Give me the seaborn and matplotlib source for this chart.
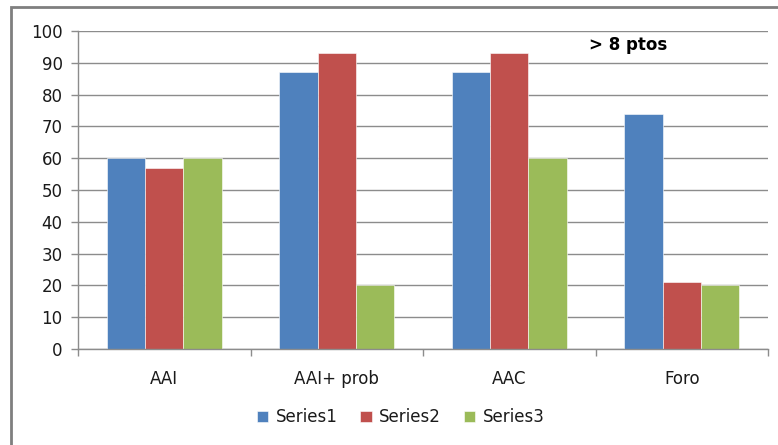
import matplotlib
matplotlib.use("Agg")
import matplotlib.pyplot as plt
import seaborn as sns
import pandas as pd
from matplotlib.patches import Rectangle

categories = ["AAI", "AAI+ prob", "AAC", "Foro"]
series_names = ["Series1", "Series2", "Series3"]
series1 = [60, 87, 87, 74]
series2 = [57, 93, 93, 21]
series3 = [60, 20, 60, 20]
y_ticks = [0, 10, 20, 30, 40, 50, 60, 70, 80, 90, 100]
note_text = "> 8 ptos"

colors = ["#4F81BD", "#C0504D", "#9BBB59"]

rows = []
for name, vals in zip(series_names, [series1, series2, series3]):
    for cat, v in zip(categories, vals):
        rows.append({"categoria": cat, "serie": name, "valor": v})
df = pd.DataFrame(rows)

sns.set_theme(style="white")
plt.rcParams["font.family"] = ["DejaVu Sans"]

fig = plt.figure(figsize=(7.78, 4.45), dpi=100)
ax = fig.add_axes([78 / 778, 1 - 349 / 445, 690 / 778, 318 / 445])

sns.barplot(data=df, x="categoria", y="valor", hue="serie", order=categories,
            hue_order=series_names, palette=colors, width=0.667, gap=0,
            saturation=1, ax=ax, legend=True)

for p in ax.patches:
    p.set_edgecolor("white")
    p.set_linewidth(0.4)

ax.set_ylim(0, 100)
ax.set_xlim(-0.5, 3.5)
ax.set_yticks(y_ticks)
ax.set_xlabel("")
ax.set_ylabel("")

grid_col = "#8C8C8C"
text_col = "#1a1a1a"
ax.yaxis.grid(True, color=grid_col, linewidth=1)
ax.set_axisbelow(True)
for s in ["top", "right"]:
    ax.spines[s].set_visible(False)
for s in ["left", "bottom"]:
    ax.spines[s].set_color(grid_col)
    ax.spines[s].set_linewidth(1)

ax.tick_params(axis="y", which="major", length=5, width=1, color=grid_col,
               pad=6, labelsize=12, labelcolor=text_col, left=True)
ax.set_xticks([-0.5, 0.5, 1.5, 2.5, 3.5], minor=True)
ax.tick_params(axis="x", which="minor", length=5, width=1, color=grid_col,
               bottom=True, direction="out")
ax.tick_params(axis="x", which="major", length=0, pad=15, labelsize=12,
               labelcolor=text_col)

ax.text(2.69, 95.6, note_text, fontsize=12, fontweight="bold",
        ha="center", va="center", color="black")

handles, labels = ax.get_legend_handles_labels()
ax.get_legend().remove()
fig.legend(handles, labels, loc="center", bbox_to_anchor=(0.515, 0.062),
           ncol=3, frameon=False, fontsize=12, handlelength=0.7,
           handleheight=0.7, handletextpad=0.45, columnspacing=1.35,
           labelcolor=text_col)

# chart area outline
fig.patches.append(Rectangle((11 / 778, -0.05), 1.2, 1 - 7 / 445 + 0.05,
                             transform=fig.transFigure, fill=False,
                             edgecolor="#7F7F7F", linewidth=2))

fig.savefig("out.png", dpi=100)
